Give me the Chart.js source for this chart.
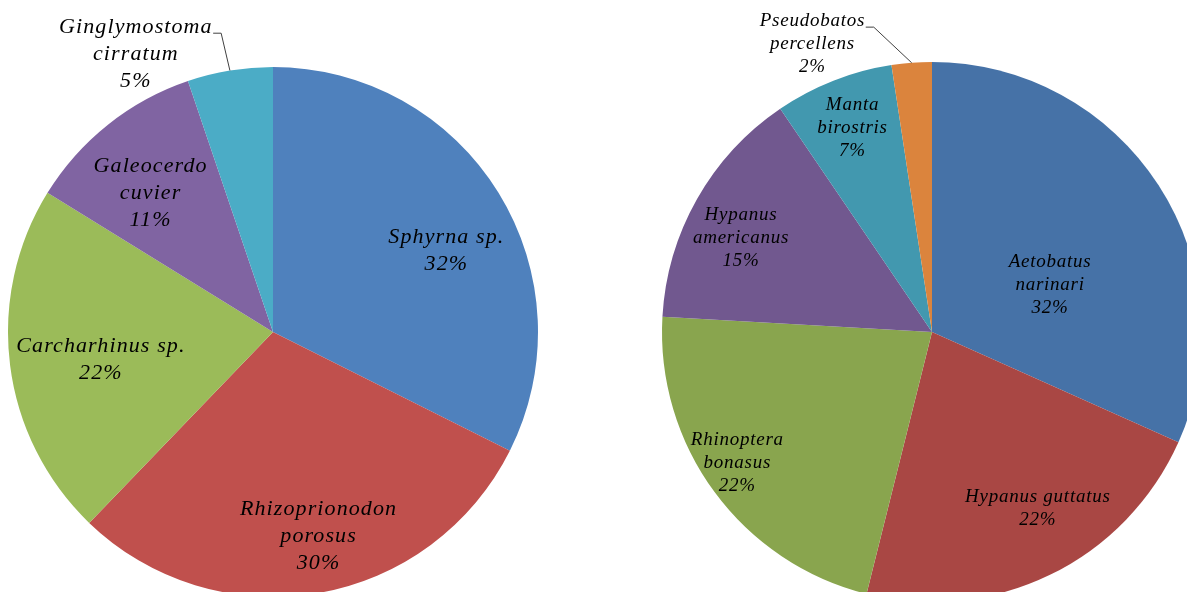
<!DOCTYPE html>
<html>
<head>
<meta charset="utf-8">
<script src="https://cdn.jsdelivr.net/npm/chart.js@4/dist/chart.umd.min.js"></script>
<style>
  body { margin: 0; background: #fff; overflow: hidden; width: 1187px; height: 592px; position: relative; }
  #sharks { position: absolute; left: 0; top: 0; }
  #rays { position: absolute; left: 620px; top: 0; }
</style>
</head>
<body>
<canvas id="sharks" width="560" height="620"></canvas>
<canvas id="rays" width="600" height="620"></canvas>
<script>
// left pie - sharks
const sharkNames = [["Sphyrna sp."], ["Rhizoprionodon", "porosus"], ["Carcharhinus sp."], ["Galeocerdo", "cuvier"], ["Ginglymostoma", "cirratum"]];
const sharkValues = [32.4, 29.8, 21.6, 11.0, 5.2];
const sharkColors = ["#4f81bd", "#c0504d", "#9bbb59", "#8064a2", "#4bacc6"];

// right pie - rays
const rayNames = [["Aetobatus", "narinari"], ["Hypanus guttatus"], ["Rhinoptera", "bonasus"], ["Hypanus", "americanus"], ["Manta", "birostris"], ["Pseudobatos", "percellens"]];
const rayValues = [31.7, 22.2, 22.0, 14.6, 7.1, 2.4];
const rayColors = ["#4672a7", "#a94744", "#89a54e", "#71588f", "#4298af", "#db843d"];

// label placement: [fraction of radius, angle nudge in degrees, outside w/ leader]
const sharkLabelPos = [[0.72, 6.6, false], [0.79, -2.7, false], [0.66, -2, false], [0.70, -3, false], [1.17, -17, true]];
const rayLabelPos = [[0.47, 11, false], [0.76, -5, false], [0.87, 2.5, false], [0.79, -3.3, false], [0.81, 0, false], [1.155, -18.3, true]];

const sliceLabels = {
  id: "sliceLabels",
  afterDatasetsDraw(chart, args, opts) {
    const ctx = chart.ctx;
    const meta = chart.getDatasetMeta(0);
    const values = chart.data.datasets[0].data;
    const total = values.reduce((a, b) => a + b, 0);
    ctx.save();
    ctx.font = "italic " + opts.size + "px 'Liberation Serif', 'Times New Roman', serif";
    ctx.letterSpacing = opts.spacing + "px";
    ctx.fillStyle = "#000";
    ctx.textAlign = "center";
    ctx.textBaseline = "middle";
    meta.data.forEach((arc, i) => {
      const p = arc.getProps(["x", "y", "startAngle", "endAngle", "outerRadius"], true);
      const pos = opts.pos[i];
      const mid = (p.startAngle + p.endAngle) / 2;
      const a = mid + pos[1] * Math.PI / 180;
      const r = p.outerRadius * pos[0];
      const cx = p.x + r * Math.cos(a);
      const cy = p.y + r * Math.sin(a);
      const lines = chart.data.labels[i].concat([Math.round(values[i] / total * 100) + "%"]);
      const top = cy - (lines.length - 1) * opts.lineHeight / 2;
      lines.forEach((t, k) => ctx.fillText(t, cx + opts.spacing / 2, top + k * opts.lineHeight));
      if (pos[2]) {
        const w = ctx.measureText(lines[0]).width;
        const right = cx + w / 2;
        const ly = top + 6;
        ctx.strokeStyle = "#404040";
        ctx.lineWidth = 1;
        ctx.beginPath();
        ctx.moveTo(p.x + p.outerRadius * Math.cos(mid), p.y + p.outerRadius * Math.sin(mid));
        ctx.lineTo(right + 9, ly);
        ctx.lineTo(right + 1, ly);
        ctx.stroke();
      }
    });
    ctx.restore();
  }
};

function makePie(id, names, values, colors, pad, labelOpts) {
  new Chart(document.getElementById(id), {
    type: "pie",
    data: {
      labels: names,
      datasets: [{ data: values, backgroundColor: colors, borderWidth: 0 }]
    },
    options: {
      responsive: false,
      animation: false,
      layout: { padding: pad },
      plugins: {
        legend: { display: false },
        tooltip: { enabled: false },
        sliceLabels: labelOpts
      }
    },
    plugins: [sliceLabels]
  });
}

makePie("sharks", sharkNames, sharkValues, sharkColors,
  { left: 8, right: 22, top: 67, bottom: 23 },
  { pos: sharkLabelPos, size: 22, lineHeight: 27, spacing: 1.1 });
makePie("rays", rayNames, rayValues, rayColors,
  { left: 42, right: 18, top: 62, bottom: 18 },
  { pos: rayLabelPos, size: 19, lineHeight: 23, spacing: 0.75 });
</script>
</body>
</html>
